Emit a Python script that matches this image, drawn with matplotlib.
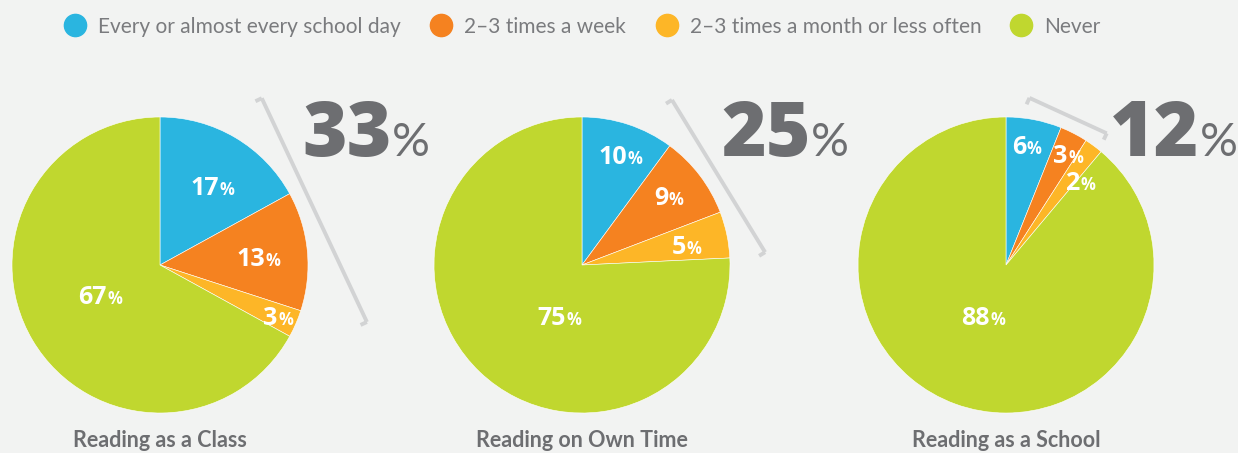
import matplotlib

matplotlib.use("Agg")
import matplotlib.pyplot as plt
import numpy as np

# survey shares (percent) per reading context
CATEGORIES = [
    "Every or almost every school day",
    "2–3 times a week",
    "2–3 times a month or less often",
    "Never",
]
PIE_TITLES = ["Reading as a Class", "Reading on Own Time", "Reading as a School"]
CLASS_SHARES = [17, 13, 3, 67]
OWN_TIME_SHARES = [10, 9, 5, 75]
SCHOOL_SHARES = [6, 3, 2, 88]

COLORS = ["#2ab5e0", "#f58220", "#fdb627", "#c0d72f"]
BG = "#f2f3f2"
DARK = "#6d6e71"
LEGEND_GREY = "#7a7b7e"
BRACKET_GREY = "#d2d3d4"

LIGHT = ["Lato", "DejaVu Sans"]
BOLD = ["Open Sans", "DejaVu Sans"]

# layout, in pixel units of the 1238x453 canvas (y up)
W, H = 1238, 453
CENTERS_X = [160, 582, 1006]
CENTER_Y = 188
RADIUS = 148
LEGEND_X = [75, 441, 667, 1021]
LEGEND_Y = 428
# bracket ends as (angle in degrees, distance in radii) from each pie centre
BRACKETS = [
    ((58.6, 1.32), (-15.4, 1.45)),
    ((61.4, 1.27), (4.0, 1.24)),
    ((82.0, 1.14), (52.6, 1.12)),
]
TOTAL_DX = [142, 139, 104]
TOTAL_BASELINE = 297
LABEL_R = [[0.64, 0.67, 0.87, 0.45], [0.79, 0.75, 0.72, 0.375], [0.82, 0.86, 0.76, 0.38]]
LABEL_NUDGE = [[-3, -1, 0, -4], [-1, 1, -1, 20], [1, -2, -5, -4]]


def polar(cx, cy, deg, r):
    a = np.deg2rad(deg)
    return cx + r * np.cos(a), cy + r * np.sin(a)


def draw_bracket(ax, cx, cy, ends):
    (a0, r0), (a1, r1) = ends
    x0, y0 = polar(cx, cy, a0, r0 * RADIUS)
    x1, y1 = polar(cx, cy, a1, r1 * RADIUS)
    ax.plot([x0, x1], [y0, y1], color=BRACKET_GREY, lw=2.8, solid_capstyle="butt")
    # short hooks pointing back toward the pie
    d = np.array([x1 - x0, y1 - y0])
    n = np.array([d[1], -d[0]]) / np.hypot(*d)
    mid = np.array([(x0 + x1) / 2, (y0 + y1) / 2])
    if np.dot(n, np.array([cx, cy]) - mid) < 0:
        n = -n
    for x, y in ((x0, y0), (x1, y1)):
        ax.plot([x, x + 7 * n[0]], [y, y + 7 * n[1]], color=BRACKET_GREY, lw=2.8,
                solid_capstyle="butt")


def pct_label(ax, x, y, value, size=18, pct_size=12, color="white"):
    base = y - 9
    num = ax.text(x - 8, base, f"{value}", ha="center", va="baseline",
                  fontsize=size, fontweight="bold", family=BOLD, color=color)
    ax.annotate("%", xy=(1, base), xycoords=(num, "data"), xytext=(0.5, 0),
                textcoords="offset points", ha="left", va="baseline",
                fontsize=pct_size, fontweight="bold", family=BOLD, color=color)


def main():
    fig = plt.figure(figsize=(W / 100, H / 100), dpi=100, facecolor=BG)
    ax = fig.add_axes([0, 0, 1, 1])
    ax.set_facecolor(BG)

    all_shares = [CLASS_SHARES, OWN_TIME_SHARES, SCHOOL_SHARES]
    for i, shares in enumerate(all_shares):
        cx = CENTERS_X[i]
        wedges, _ = ax.pie(shares, colors=COLORS, startangle=90, counterclock=False,
                           center=(cx, CENTER_Y), radius=RADIUS,
                           wedgeprops=dict(edgecolor="white", linewidth=0.4))
        for j, (w, val) in enumerate(zip(wedges, shares)):
            mid = (w.theta1 + w.theta2) / 2 + LABEL_NUDGE[i][j]
            lx, ly = polar(cx, CENTER_Y, mid, LABEL_R[i][j] * RADIUS)
            pct_label(ax, lx, ly, val)

        draw_bracket(ax, cx, CENTER_Y, BRACKETS[i])

        total = 100 - shares[-1]
        big = ax.text(cx + TOTAL_DX[i], TOTAL_BASELINE, f"{total}", ha="left",
                      va="baseline", fontsize=55, fontweight="heavy", family=BOLD,
                      color=DARK)
        ax.annotate("%", xy=(1, TOTAL_BASELINE), xycoords=(big, "data"),
                    xytext=(0.5, 0), textcoords="offset points", ha="left",
                    va="baseline", fontsize=34, fontweight="normal", family=LIGHT,
                    color=DARK)

        ax.text(cx, 6, PIE_TITLES[i], ha="center", va="baseline", fontsize=15.5,
                fontweight="bold", family=LIGHT, color=DARK)

    # legend row: coloured dot followed by its label
    for x, color, label in zip(LEGEND_X, COLORS, CATEGORIES):
        ax.plot([x], [LEGEND_Y], marker="o", markersize=16, color=color,
                linestyle="", clip_on=False)
        ax.text(x + 23, LEGEND_Y, label, ha="left", va="center_baseline",
                fontsize=15, family=LIGHT, color=LEGEND_GREY)

    ax.set_xlim(0, W)
    ax.set_ylim(0, H)
    ax.set_aspect("auto")
    ax.axis("off")

    fig.savefig("out.png", dpi=100, facecolor=BG)
    plt.close(fig)


if __name__ == "__main__":
    main()
